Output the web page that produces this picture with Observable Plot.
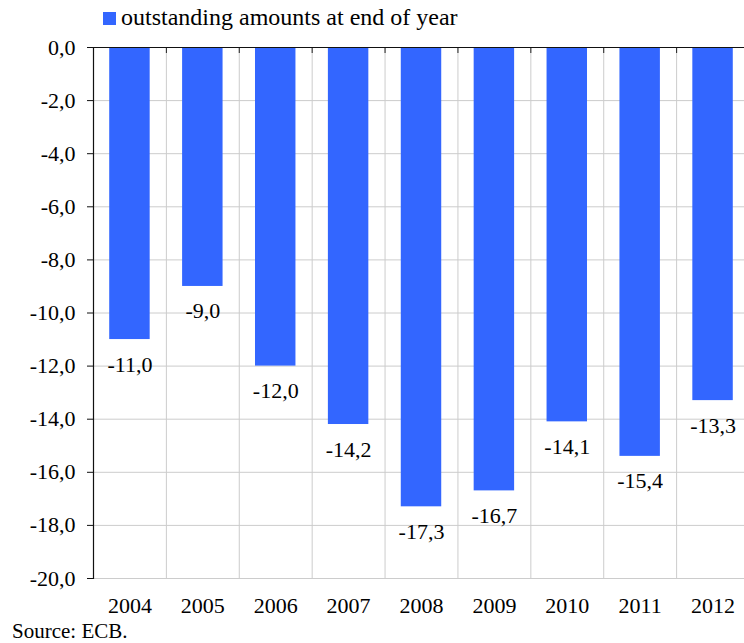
<!DOCTYPE html>
<html>
<head>
<meta charset="utf-8">
<script src="https://cdn.jsdelivr.net/npm/d3@7"></script>
<script src="https://cdn.jsdelivr.net/npm/@observablehq/plot@0.6"></script>
<style>
  html, body { margin: 0; padding: 0; background: #fff; overflow: hidden; width: 744px; height: 643px; }
  body { font-family: "Liberation Serif", "DejaVu Serif", serif; color: #000; }
  #legend { height: 36px; position: relative; font-size: 24px; }
  #legend .sw { position: absolute; left: 103px; top: 12px; width: 13px; height: 13px; background: #3366FF; }
  #legend .lb { position: absolute; left: 121px; top: 4px; line-height: 26px; white-space: nowrap; }
  #chart svg { display: block; overflow: visible; }
  #source { font-size: 21px; padding-left: 12px; line-height: 22px; margin-top: 0px; }
</style>
</head>
<body>
<div id="legend"><span class="sw"></span><span class="lb">outstanding amounts at end of year</span></div>
<div id="chart"></div>
<div id="source">Source: ECB.</div>
<script>
const years = ["2004","2005","2006","2007","2008","2009","2010","2011","2012"];
const values = [-11.0, -9.0, -12.0, -14.2, -17.3, -16.7, -14.1, -15.4, -13.3];
const yTicks = [0, -2, -4, -6, -8, -10, -12, -14, -16, -18, -20];

const data = years.map((y, i) => ({year: y, value: values[i]}));
const fmt = v => v.toFixed(1).replace("-0.0", "0.0").replace(".", ",");

const width = 744, marginLeft = 93, marginRight = -5;
const step = (width - marginLeft - marginRight) / years.length;
const serif = "'Liberation Serif', 'DejaVu Serif', serif";

const chart = Plot.plot({
  width,
  height: 584,
  marginTop: 11,
  marginBottom: 42,
  marginLeft,
  marginRight,
  style: {fontFamily: serif, fontSize: "22px", color: "#000", background: "#fff"},
  x: {domain: years, paddingInner: 0.445, paddingOuter: 0.2225, round: false, label: null},
  y: {domain: [-20, 0], label: null},
  marks: [
    Plot.gridY(yTicks, {stroke: "#cccccc", strokeOpacity: 1, strokeWidth: 1}),
    Plot.ruleX(years, {x: d => d, dx: -step / 2, y1: 0, y2: -20, stroke: "#cccccc", strokeWidth: 1}),
    Plot.ruleX(years.slice(1), {x: d => d, dx: -step / 2, y1: 0, y2: -20, insetBottom: 525, stroke: "#222", strokeWidth: 1}),
    Plot.barY(data, {x: "year", y1: 0, y2: "value", fill: "#3366FF"}),
    Plot.ruleY([0], {stroke: "#111", strokeWidth: 1.2}),
    Plot.frame({anchor: "left", stroke: "#111", strokeWidth: 1.2}),
    Plot.axisY(yTicks, {tickFormat: fmt, tickSize: 6, tickPadding: 12, stroke: "#111", fontSize: 22, fontFamily: serif, label: null}),
    Plot.axisX({tickSize: 0, tickPadding: 19, fontSize: 22, fontFamily: serif, label: null}),
    Plot.text(data, {x: "year", y: "value", text: d => fmt(d.value), dy: 25, fontSize: 22, fontFamily: serif, fill: "#000"})
  ]
});
document.getElementById("chart").appendChild(chart);
</script>
</body>
</html>
